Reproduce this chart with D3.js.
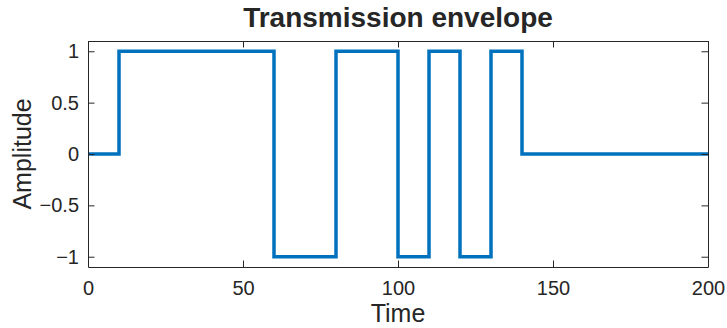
<!DOCTYPE html>
<html lang="en">
<head>
    <meta charset="UTF-8">
    <title>Transmission envelope</title>
    <script src="https://d3js.org/d3.v7.min.js"></script>
    <style>
        *{padding:0; margin:0; box-sizing:border-box;}
        body{background:#fff;}
        text{font-family:"Liberation Sans", Arial, Helvetica, sans-serif; fill:#262626;}
    </style>
</head>
<body>
    <script>
        // step envelope: level holds from each time until the next one
        const times  = [0, 10, 60, 80, 100, 110, 120, 130, 140, 200];
        const levels = [0, 1, -1, 1, -1, 1, -1, 1, 0, 0];
        const xTicks = [0, 50, 100, 150, 200];
        const yTicks = [-1, -0.5, 0, 0.5, 1];

        const W = 727, H = 328;
        const m = {left:88, right:19, top:41, bottom:61};

        let svg = d3.select('body').append('svg')
                    .attr('width', W).attr('height', H);

        let x = d3.scaleLinear().domain([0, 200]).range([m.left, W - m.right]);
        let y = d3.scaleLinear().domain([-1.1, 1.1]).range([H - m.bottom, m.top]);

        let pts = times.map(function(t, i){ return [t, levels[i]]; });

        //envelope line
        let line = d3.line()
                     .x(function(d){ return x(d[0]); })
                     .y(function(d){ return y(d[1]); })
                     .curve(d3.curveStepAfter);

        svg.append('path')
           .datum(pts)
           .attr('d', line)
           .attr('fill', 'none')
           .attr('stroke', '#0072BD')
           .attr('stroke-width', 3.5);

        //axes with inward ticks, MATLAB style box
        const tl = 6.5;
        let fmt = d3.format('');
        let gx = svg.append('g').attr('transform', 'translate(0,' + (H - m.bottom) + ')')
                    .call(d3.axisBottom(x).tickValues(xTicks).tickSizeInner(-tl).tickSizeOuter(0).tickPadding(14).tickFormat(fmt));
        let gy = svg.append('g').attr('transform', 'translate(' + m.left + ',0)')
                    .call(d3.axisLeft(y).tickValues(yTicks).tickSizeInner(-tl).tickSizeOuter(0).tickPadding(9).tickFormat(fmt));
        let gx2 = svg.append('g').attr('transform', 'translate(0,' + m.top + ')')
                    .call(d3.axisTop(x).tickValues(xTicks).tickSizeInner(-tl).tickSizeOuter(0).tickFormat(''));
        let gy2 = svg.append('g').attr('transform', 'translate(' + (W - m.right) + ',0)')
                    .call(d3.axisRight(y).tickValues(yTicks).tickSizeInner(-tl).tickSizeOuter(0).tickFormat(''));

        [gx, gy, gx2, gy2].forEach(function(g){
            g.select('.domain').attr('stroke', '#262626').attr('stroke-width', 1);
            g.selectAll('.tick line').attr('stroke', '#262626').attr('stroke-width', 1);
            g.selectAll('.tick text').attr('fill', '#262626').attr('font-size', 20);
        });
        gx.selectAll('.tick text').attr('dy', '0.71em');

        //labels
        svg.append('text')
           .attr('x', (m.left + W - m.right) / 2).attr('y', 27)
           .attr('text-anchor', 'middle')
           .attr('font-size', 28).attr('font-weight', 'bold')
           .attr('fill', '#000')
           .text('Transmission envelope');

        svg.append('text')
           .attr('x', (m.left + W - m.right) / 2).attr('y', 322)
           .attr('text-anchor', 'middle')
           .attr('font-size', 25)
           .text('Time');

        svg.append('text')
           .attr('transform', 'translate(31,' + y(0) + ') rotate(-90)')
           .attr('text-anchor', 'middle')
           .attr('font-size', 25)
           .text('Amplitude');
    </script>
</body>
</html>
